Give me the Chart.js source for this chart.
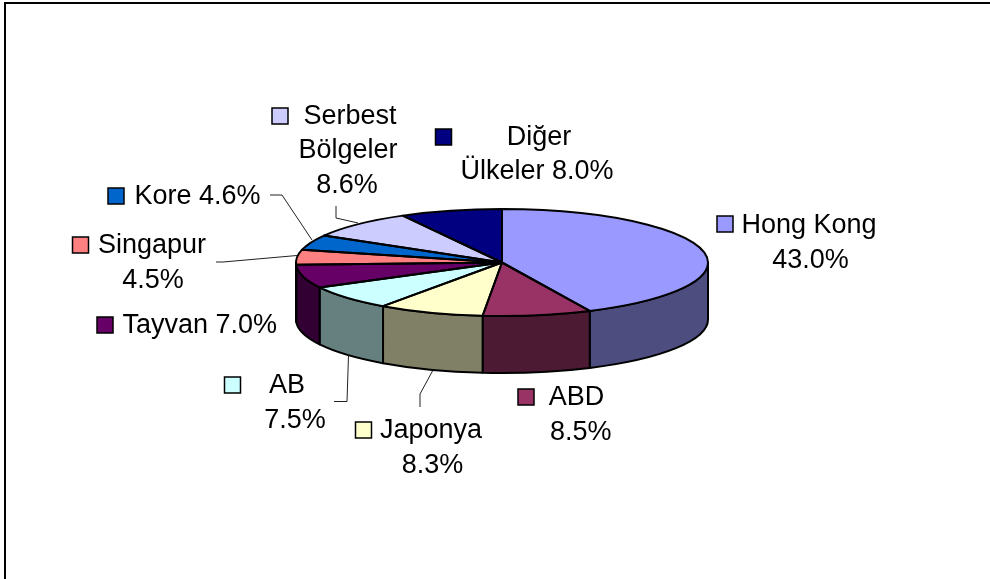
<!DOCTYPE html>
<html>
<head>
<meta charset="utf-8">
<title>Pie</title>
<script src="https://cdn.jsdelivr.net/npm/chart.js@4"></script>
<style>
html,body{margin:0;padding:0;background:#fff;}
canvas{display:block;}
</style>
</head>
<body>
<canvas id="pie" width="990" height="579"></canvas>
<script>
const categories = ['Hong Kong','ABD','Japonya','AB','Tayvan','Singapur','Kore','Serbest Bölgeler','Diğer Ülkeler'];
const shares = [43.0,8.5,8.3,7.5,7.0,4.5,4.6,8.6,8.0];
const labelLines = [
    ['Hong Kong','43.0%'],
    ['ABD','8.5%'],
    ['Japonya','8.3%'],
    ['AB','7.5%'],
    ['Tayvan 7.0%'],
    ['Singapur','4.5%'],
    ['Kore 4.6%'],
    ['Serbest','Bölgeler','8.6%'],
    ['Diğer','Ülkeler 8.0%']
];
const sliceColors = ['#9999FF','#993366','#FFFFCC','#CCFFFF','#660066','#FF8080','#0066CC','#CCCCFF','#000080'];

// ekrandaki yerlesim
const cx = 502, cy = 262.5, rx = 206, ry = 53.5, depth = 57;
const labelCenters = [[809,810.5],[576.5,580.8],[431,432.5],[287,295],[199.7],[152,153],[197.5],[350,348,347],[539,537]];
const labelBaselines = [[233,268],[405,440],[438,473],[393,428],[333],[253,288],[204],[124,158,193],[145,179]];
const swatches = [[717,216],[518,389],[355.5,422],[224.5,377],[97,317],[72.5,237],[108,188],[272,108],[435.5,129]];
const leaders = [
    [[270,195],[282,195],[312,240]],
    [[216,262],[223,262],[297,255.5]],
    [[336,206],[336,218],[358,223]],
    [[334,401.5],[347,401.5],[348.5,355]],
    [[420,407],[420,394],[432.5,371]]
];

function darker(hex){
    const n = parseInt(hex.slice(1),16);
    const half = v => Math.round(v/2);
    return `rgb(${half(n>>16&255)},${half(n>>8&255)},${half(n&255)})`;
}

// Chart.js daireyi ciziyor, bu plugin elipse basip yan yuzeyi ekliyor
const pie3d = {
    id:'pie3d',
    beforeDatasetsDraw(chart){
        const ctx = chart.ctx;
        const arcs = chart.getDatasetMeta(0).data;
        ctx.save();
        ctx.lineWidth = 2;
        ctx.lineJoin = 'round';
        ctx.strokeStyle = '#000';
        arcs.forEach((arc,i) => {
            const a0 = Math.max(arc.startAngle,0);
            const a1 = Math.min(arc.endAngle,Math.PI);
            if(a1 <= a0) return;
            ctx.beginPath();
            ctx.ellipse(arc.x,arc.y,rx,ry,0,a0,a1);
            ctx.ellipse(arc.x,arc.y+depth,rx,ry,0,a1,a0,true);
            ctx.closePath();
            ctx.fillStyle = darker(sliceColors[i]);
            ctx.fill();
            ctx.stroke();
        });
        ctx.restore();
        ctx.save();
        const first = arcs[0];
        ctx.translate(first.x,first.y);
        ctx.scale(1,ry/rx);
        ctx.translate(-first.x,-first.y);
    },
    afterDatasetsDraw(chart){
        const ctx = chart.ctx;
        ctx.restore();
        ctx.save();
        ctx.lineWidth = 2;
        ctx.lineJoin = 'round';
        ctx.strokeStyle = '#000';
        chart.getDatasetMeta(0).data.forEach(arc => {
            ctx.beginPath();
            ctx.moveTo(arc.x,arc.y);
            ctx.ellipse(arc.x,arc.y,rx,ry,0,arc.startAngle,arc.endAngle);
            ctx.closePath();
            ctx.stroke();
        });
        ctx.restore();
    },
    afterDraw(chart){
        const ctx = chart.ctx;
        ctx.save();

        // sadece ust ve sol cerceve var
        ctx.strokeStyle = '#000';
        ctx.lineWidth = 2;
        ctx.beginPath();
        ctx.moveTo(5,579);
        ctx.lineTo(5,3);
        ctx.lineTo(990,3);
        ctx.stroke();

        ctx.lineWidth = 1;
        ctx.strokeStyle = '#222';
        leaders.forEach(pts => {
            ctx.beginPath();
            pts.forEach((p,i) => i ? ctx.lineTo(p[0],p[1]) : ctx.moveTo(p[0],p[1]));
            ctx.stroke();
        });

        ctx.font = '27px "Liberation Sans"';
        ctx.textAlign = 'center';
        ctx.textBaseline = 'alphabetic';
        categories.forEach((name,i) => {
            const s = swatches[i];
            ctx.fillStyle = sliceColors[i];
            ctx.fillRect(s[0],s[1],16,16);
            ctx.lineWidth = 1.5;
            ctx.strokeStyle = '#000';
            ctx.strokeRect(s[0],s[1],16,16);
            ctx.fillStyle = '#000';
            labelLines[i].forEach((line,j) => {
                ctx.fillText(line,labelCenters[i][j],labelBaselines[i][j]);
            });
        });
        ctx.restore();
    }
};

new Chart(document.getElementById('pie'),{
    type:'pie',
    data:{
        labels:categories,
        datasets:[{
            data:shares,
            backgroundColor:sliceColors,
            borderWidth:0
        }]
    },
    options:{
        responsive:false,
        animation:false,
        events:[],
        layout:{padding:{left:cx-rx,right:990-cx-rx,top:cy-rx,bottom:579-cy-rx}},
        plugins:{legend:{display:false},tooltip:{enabled:false}}
    },
    plugins:[pie3d]
});
</script>
</body>
</html>
